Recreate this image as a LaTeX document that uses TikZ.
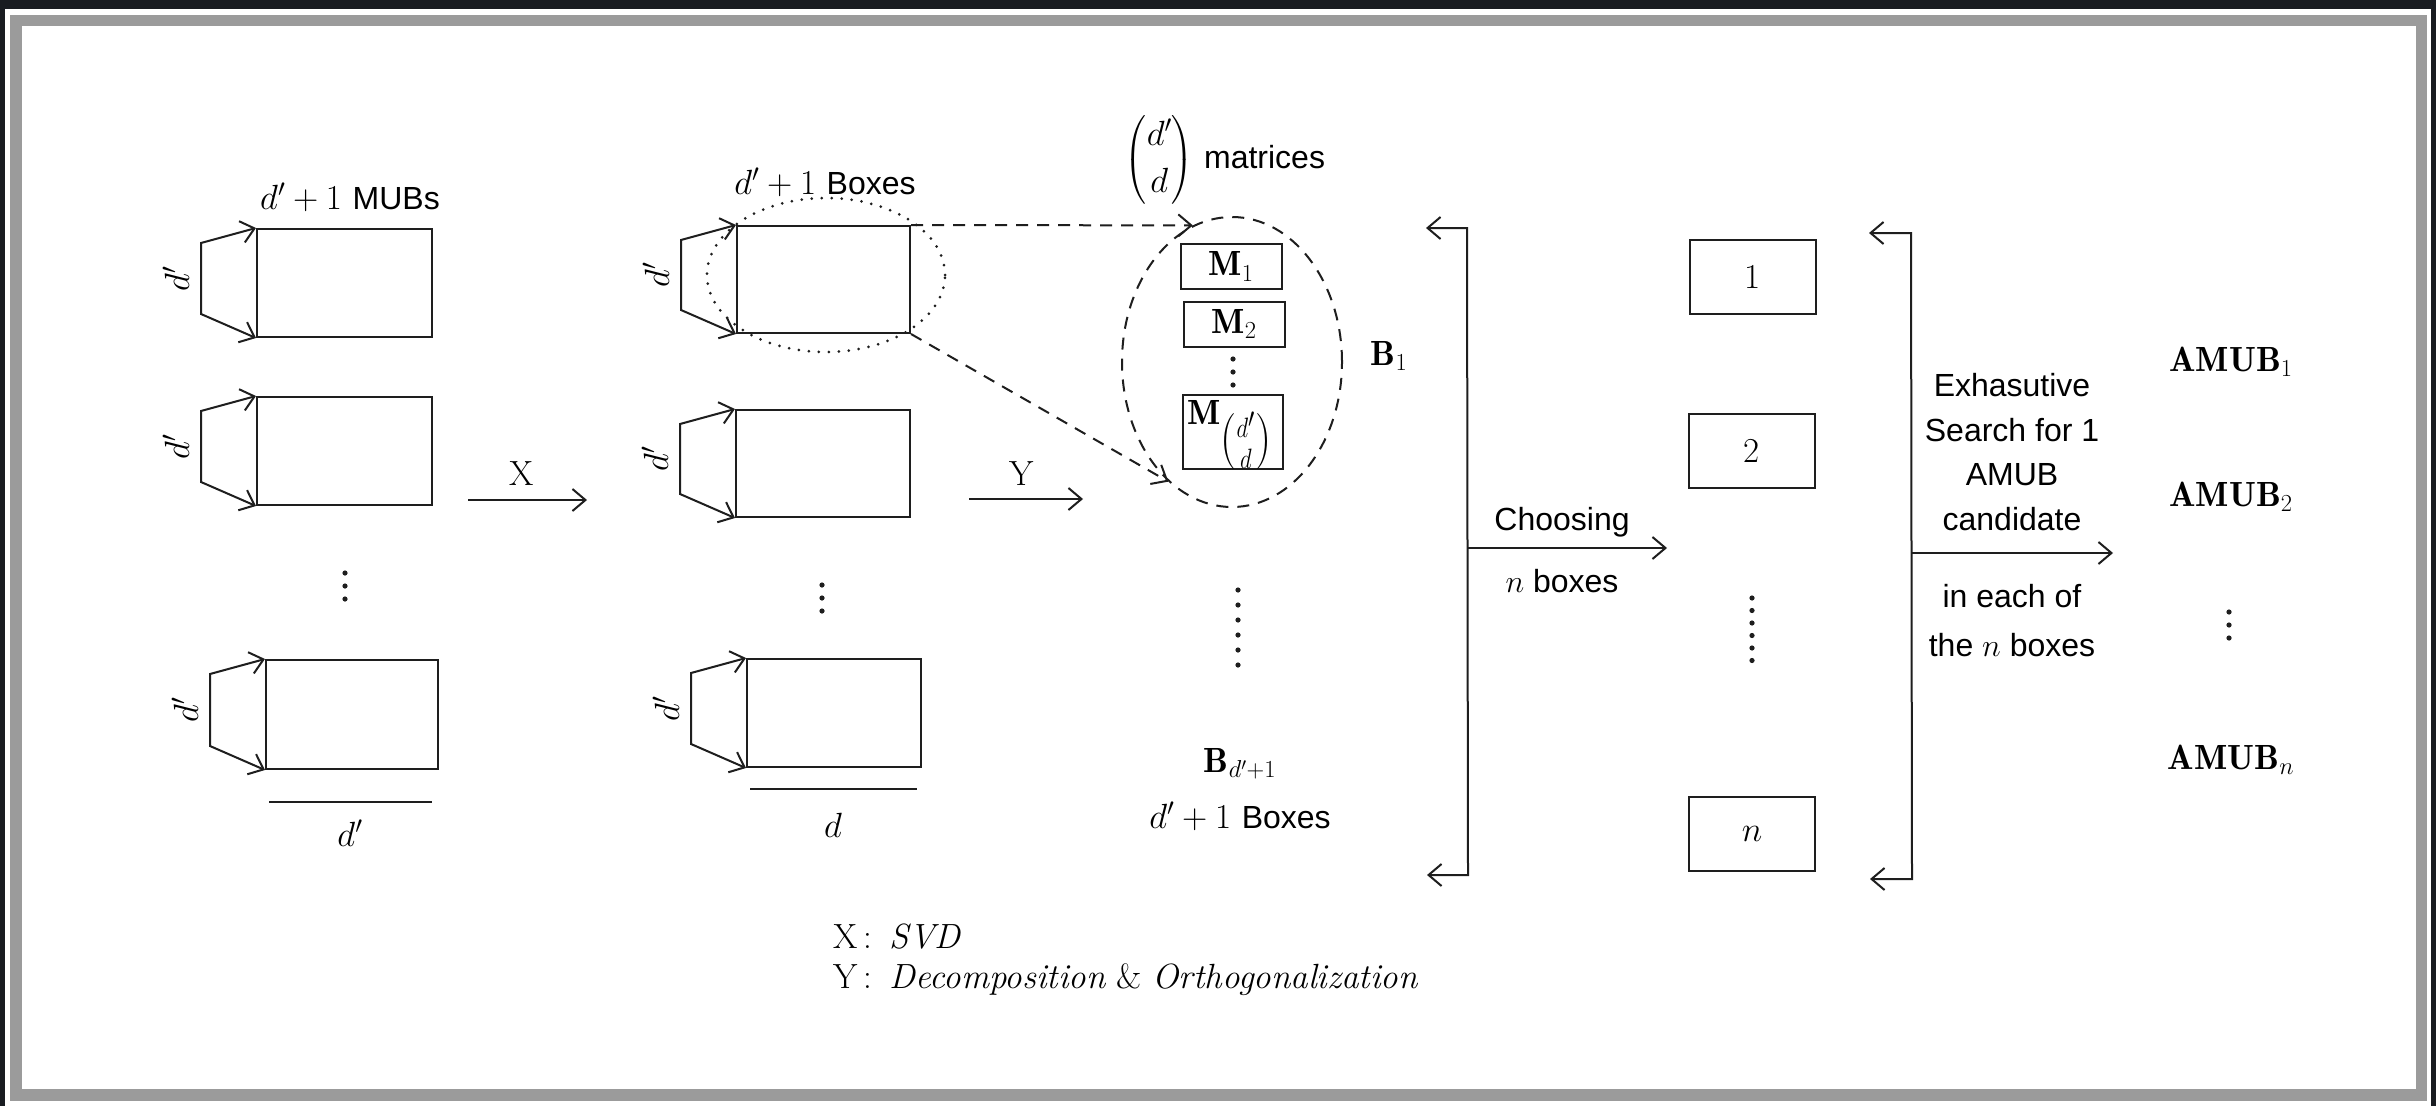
\RequirePackage{fix-cm}
\documentclass[tikz,border=0pt]{standalone}
\usepackage{amsmath}
\usepackage{fontspec}
\setsansfont{Liberation Sans}
\usetikzlibrary{arrows.meta,shapes.geometric,calc}

\definecolor{framedark}{HTML}{191C21}
\definecolor{framegray}{HTML}{9B9B9B}
\definecolor{ink}{HTML}{1E1E1E}

% sans words set a little smaller than the serif/math text
\newcommand\sw[1]{{\fontsize{32}{38}\selectfont\sffamily #1}}

\tikzset{
  ln/.style={line width=2pt, draw=ink},
  tip/.style={-{Straight Barb[length=13pt,width=22pt]}},
  tips/.style={{Straight Barb[length=13pt,width=22pt]}-{Straight Barb[length=13pt,width=22pt]}},
  matbox/.style={draw=ink, line width=2pt, rectangle, inner sep=0pt,
                 minimum width=174pt, minimum height=107pt},
  mbox/.style={draw=ink, line width=2pt, rectangle, inner sep=2pt,
               minimum width=101pt, minimum height=45pt},
  nbox/.style={draw=ink, line width=2pt, rectangle, inner sep=0pt,
               minimum width=126pt, minimum height=74pt},
  dashline/.style={ln, dash pattern=on 12pt off 9pt},
  dotline/.style={draw=ink, line width=3pt, line cap=round, dash pattern=on 0pt off 10pt},
  dimline/.style={line width=2.5pt, draw=ink},
  sans/.style={font=\fontsize{32}{44.6}\selectfont\sffamily},
}

% bracket with two barbs on the left side of a matrix box, labelled d'
\newcommand\sidebracket[1]{%
  \coordinate (#1-t) at ($(#1.north west)+(-55,15)$);
  \coordinate (#1-b) at ($(#1.south west)+(-55,-24)$);
  \draw[ln, tips] (#1.north west) -- (#1-t) -- (#1-b) -- (#1.south west);
  \node[rotate=90] at ($(#1-t)!0.5!(#1-b)+(-25,0)$) {$d'$};
}
% vertical row of dots
\newcommand\vdotrow[4]{% x, first y, step, count
  \foreach \k in {1,...,#4} {\fill[ink] (#1,{#2+(\k-1)*#3}) circle (2.6pt);}
}

\begin{document}
\begin{tikzpicture}[x=1pt,y=-1pt, font=\fontsize{35}{44.6}\selectfont]
% window frame
\fill[framedark] (0,0) rectangle (2436,1106);
\fill[white] (5,9) rectangle (2431,1106);
\fill[framegray] (10,15) rectangle (2427,1101);
\fill[white] (22,26) rectangle (2416,1089);
\useasboundingbox (0,0) rectangle (2436,1106);

% ---- column 1: d'+1 MUBs
\node (t1) at (350,197) {$d'+1$ \sw{MUBs}};
\node[matbox, minimum width=175pt, minimum height=108pt] (a1) at (344.5,283) {};
\node[matbox, minimum width=175pt, minimum height=108pt] (a2) at (344.5,451) {};
\node[matbox, minimum width=172pt, minimum height=109pt] (a3) at (352,714.5) {};
\sidebracket{a1}
\sidebracket{a2}
\sidebracket{a3}
\vdotrow{345}{573}{13}{3}
\draw[dimline] (269,802) -- (432,802);
\node (w1) at (350,833) {$d'$};

% X arrow
\coordinate (xs) at (468,500);
\coordinate (xe) at (587,500);
\draw[ln, tip] (xs) -- (xe);
\node at (522,474) {X};

% ---- column 2: d'+1 Boxes
\node (t2) at (825,182) {$d'+1$ \sw{Boxes}};
\node[matbox, minimum width=173pt] (b1) at (823.5,279.5) {};
\node[matbox] (b2) at (823,463.5) {};
\node[matbox, minimum height=108pt] (b3) at (834,713) {};
\sidebracket{b1}
\sidebracket{b2}
\sidebracket{b3}
\node[ellipse, dotline, minimum width=238pt, minimum height=154pt] (sel) at (826,275) {};
\vdotrow{822}{585}{13}{3}
\draw[dimline] (750,789) -- (917,789);
\node (w2) at (833,825) {$d$};

% Y arrow
\coordinate (ys) at (969,499);
\coordinate (ye) at (1083,499);
\draw[ln, tip] (ys) -- (ye);
\node at (1022,474) {Y};

% ---- column 3: one box split into matrices
\node (bin) at (1225,160) {$\dbinom{d'}{d}$ \sw{matrices}};
\node[ellipse, draw=ink, line width=2pt, dash pattern=on 12pt off 9pt,
      minimum width=220pt, minimum height=290pt] (B1e) at (1232,362) {};
\node[mbox] (m1) at (1231,266.5) {$\mathbf{M}_1$};
\node[mbox] (m2) at (1234,324) {$\mathbf{M}_2$};
\vdotrow{1233}{359}{13}{3}
\node[mbox, minimum width=100pt, minimum height=74pt] (m3) at (1233,432) {};
\node[anchor=north west, inner sep=0pt] at ($(m3.north west)+(5,6)$)
  {$\mathbf{M}_{\raisebox{-4pt}{\scalebox{1.3}[1.6]{$\scriptstyle\binom{d'}{d}$}}}$};
\draw[dashline, tip] (b1.north east) -- (B1e.106);
\draw[dashline, tip] (b1.south east) -- (B1e.242);
\node (B1) at (1389,356) {$\mathbf{B}_1$};
\vdotrow{1238}{590}{15}{6}
\node (Bd) at (1240,764) {$\mathbf{B}_{d'+1}$};
\node (t3) at (1240,816) {$d'+1$ \sw{Boxes}};

% ---- selection bracket
\coordinate (k1t) at (1467,228);
\coordinate (k1b) at (1468,875);
\coordinate (k1tl) at (1426,228);
\coordinate (k1bl) at (1427,875);
\draw[ln, tips] (k1tl) -- (k1t) -- (k1b) -- (k1bl);
\coordinate (k1m) at (1467,548);
\coordinate (k1e) at (1667,548);
\draw[ln, tip] (k1m) -- (k1e);
\node[sans] at (1562,522) {Choosing};
\node[sans] at (1562,581) {$n$ boxes};

% ---- column 4: chosen boxes
\node[nbox] (n1) at (1753,276.5) {1};
\node[nbox] (n2) at (1752,450.5) {2};
\vdotrow{1752}{598}{12.5}{6}
\node[nbox] (nn) at (1752,833.5) {$n$};

% ---- search bracket
\coordinate (k2t) at (1911,233);
\coordinate (k2b) at (1912,879);
\coordinate (k2tl) at (1869,233);
\coordinate (k2bl) at (1870,879);
\draw[ln, tips] (k2tl) -- (k2t) -- (k2b) -- (k2bl);
\coordinate (k2m) at (1911,553);
\coordinate (k2e) at (2113,553);
\draw[ln, tip] (k2m) -- (k2e);
\node[sans, align=center] at (2012,452)
  {Exhasutive\\Search for 1\\AMUB\\candidate};
\node[sans, align=center, font=\fontsize{32}{49}\selectfont\sffamily] at (2012,621)
  {in each of\\the $n$ boxes};

% ---- results
\node (r1) at (2231,362) {$\mathbf{AMUB}_1$};
\node (r2) at (2231,497) {$\mathbf{AMUB}_2$};
\vdotrow{2229}{612}{13}{3}
\node (rn) at (2231,760) {$\mathbf{AMUB}_n$};

% ---- legend
\node[anchor=west] (lx) at (830,937) {X\,:\enspace\textit{SVD}};
\node[anchor=west] (ly) at (830,980) {Y\,:\enspace\textit{Decomposition} \& \textit{Orthogonalization}};
\end{tikzpicture}
\end{document}
